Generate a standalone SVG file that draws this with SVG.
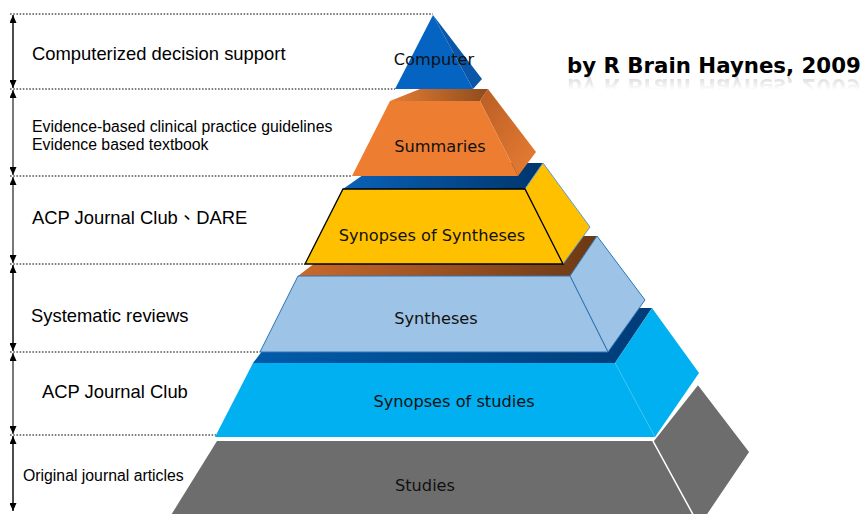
<svg xmlns="http://www.w3.org/2000/svg" width="864" height="514" viewBox="0 0 864 514">
<defs>
<style>
.lbl{font-family:"Liberation Sans",Arial,"Noto Sans CJK TC",sans-serif;fill:#000}
.big{font-size:18.4px}
.small{font-size:15.8px}
.tier{font-family:"DejaVu Sans",Verdana,sans-serif;font-size:16.2px;fill:#111;text-anchor:middle}
.dot{stroke:#000;stroke-width:1.2;stroke-dasharray:1.6 1.6;fill:none}
.arr{stroke-width:1.4;fill:none;marker-start:url(#ah);marker-end:url(#ah)}
.ttl{font-family:"DejaVu Sans",Verdana,sans-serif;font-weight:bold;font-size:21.3px;fill:#000}
</style>
<marker id="ah" viewBox="0 0 8 7" refX="8" refY="3.5" markerWidth="8" markerHeight="7" markerUnits="userSpaceOnUse" orient="auto-start-reverse">
<path d="M0,0 L8,3.5 L0,7 z" fill="#000"/>
</marker>
<linearGradient id="gSumTop" x1="0" y1="0" x2="1" y2="0">
<stop offset="0" stop-color="#E57C34"/><stop offset="1" stop-color="#8E4C1D"/>
</linearGradient>
<linearGradient id="gSumRight" x1="0" y1="0" x2="1" y2="1">
<stop offset="0" stop-color="#B85E25"/><stop offset="1" stop-color="#E97D33"/>
</linearGradient>
<linearGradient id="gBlueTop" x1="0" y1="0" x2="1" y2="0">
<stop offset="0" stop-color="#0A62B8"/><stop offset="1" stop-color="#00356C"/>
</linearGradient>
<linearGradient id="gBrownTop" x1="0" y1="0" x2="1" y2="0">
<stop offset="0" stop-color="#C9692C"/><stop offset="1" stop-color="#6B3914"/>
</linearGradient>
<linearGradient id="gCyanTop" x1="0" y1="0" x2="1" y2="0">
<stop offset="0" stop-color="#005BAA"/><stop offset="1" stop-color="#003C78"/>
</linearGradient>
<linearGradient id="gFade" x1="0" y1="0" x2="0" y2="1">
<stop offset="0" stop-color="#fff" stop-opacity="1"/><stop offset="1" stop-color="#fff" stop-opacity="0"/>
</linearGradient>
<mask id="mFade" maskUnits="userSpaceOnUse" x="560" y="74" width="304" height="20">
<rect x="560" y="74" width="304" height="16" fill="url(#gFade)"/>
</mask>
</defs>
<rect width="864" height="514" fill="#fff"/>

<g id="guides">
<line class="dot" x1="10" y1="14" x2="433" y2="14"/>
<line class="dot" x1="10" y1="89" x2="395" y2="89"/>
<line class="dot" x1="10" y1="176" x2="352" y2="176"/>
<line class="dot" x1="10" y1="264" x2="305" y2="264"/>
<line class="dot" x1="10" y1="352" x2="260" y2="352"/>
<line class="dot" x1="10" y1="435" x2="216" y2="435"/>
</g>

<g id="connectors">
<line class="arr" x1="13" y1="15" x2="13" y2="88" stroke="#000"/>
<line class="arr" x1="13" y1="90" x2="13" y2="175" stroke="#404040"/>
<line class="arr" x1="13" y1="177" x2="13" y2="263" stroke="#404040"/>
<line class="arr" x1="13" y1="265" x2="13" y2="351" stroke="#000"/>
<line class="arr" x1="13" y1="353" x2="13" y2="434" stroke="#404040"/>
<line class="arr" x1="13" y1="436" x2="13" y2="511" stroke="#000"/>
</g>

<g id="tier-studies">
<polygon points="217,441 653,441 696,520 168,520" fill="#6D6D6D"/>
<polygon points="653,441 698,384 750,452 704,520 696,520" fill="#6D6D6D" stroke="#fff" stroke-width="1.5"/>
<text class="tier" x="425" y="491">Studies</text>
</g>

<g id="tier-synopses-studies">
<polygon points="253,363 615,363 652,308 295,308" fill="url(#gCyanTop)"/>
<polygon points="615,363 652,308 699,373 655,437" fill="#00B0F0"/>
<polygon points="253,363 615,363 655,437 215,437" fill="#00B0F0"/>
<line x1="615" y1="363" x2="655" y2="437" stroke="#3BC3F5" stroke-width="0.8"/>
<text class="tier" x="454" y="407">Synopses  of studies</text>
</g>

<g id="tier-syntheses">
<polygon points="298,276 570,276 597,236 350,236" fill="url(#gBrownTop)"/>
<polygon points="570,276 597,236 645,300 608,352" fill="#9DC3E6" stroke="#2E75B6" stroke-width="1"/>
<polygon points="298,276 570,276 608,352 260,352" fill="#9DC3E6" stroke="#2E75B6" stroke-width="1"/>
<text class="tier" x="436" y="324">Syntheses</text>
</g>

<g id="tier-synopses-syntheses">
<polygon points="343,189 525,189 543,163 380,163" fill="url(#gBlueTop)"/>
<polygon points="525,189 543,163 590,227 563,264" fill="#FFC000" stroke="#5B9BD5" stroke-width="1"/>
<polygon points="343,189 525,189 563,264 305,264" fill="#FFC000" stroke="#000" stroke-width="1.3"/>
<text class="tier" x="432" y="241">Synopses of Syntheses</text>
</g>

<g id="tier-summaries">
<polygon points="390,101 480,101 488,89 420,89" fill="url(#gSumTop)"/>
<polygon points="480,101 488,89 536,152 518,176" fill="url(#gSumRight)"/>
<polygon points="390,101 480,101 518,176 352,176" fill="#ED7D31"/>
<text class="tier" x="440" y="152">Summaries</text>
</g>

<g id="tier-computer">
<polygon points="433,15 482,79 473,89" fill="#0A57A9"/>
<polygon points="433,15 473,89 395,89" fill="#0563C1"/>
<text class="tier" x="434" y="65">Computer</text>
</g>

<g id="label-computerized">
<text class="lbl big" x="32" y="60">Computerized decision support</text>
</g>
<g id="label-guidelines">
<text class="lbl small" x="32" y="132">Evidence-based clinical practice guidelines</text>
<text class="lbl small" x="32" y="150">Evidence based textbook</text>
</g>
<g id="label-acp-dare">
<text class="lbl big" x="32" y="224">ACP Journal Club、DARE</text>
</g>
<g id="label-systematic">
<text class="lbl big" x="31" y="322">Systematic reviews</text>
</g>
<g id="label-acp">
<text class="lbl big" x="42" y="398">ACP Journal Club</text>
</g>
<g id="label-original">
<text class="lbl small" x="23" y="481">Original journal articles</text>
</g>

<g id="title">
<text class="ttl" x="567" y="73">by R Brain Haynes, 2009</text>
<g mask="url(#mFade)">
<text class="ttl" x="567" y="73" transform="translate(0,152) scale(1,-1)" fill-opacity="0.18">by R Brain Haynes, 2009</text>
</g>
</g>
</svg>
